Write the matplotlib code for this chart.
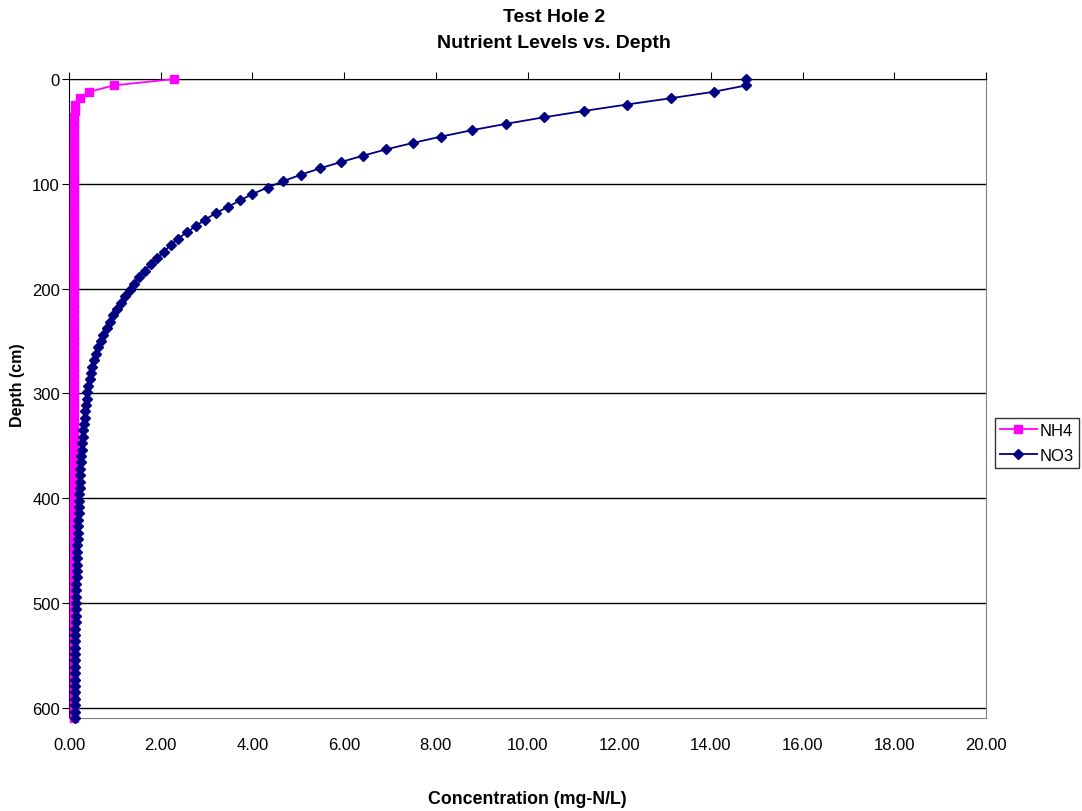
import numpy as np
import matplotlib.pyplot as plt

plt.rcParams['font.family'] = ['Liberation Sans', 'DejaVu Sans']

# depth of each sample (cm)
depth = [0.0, 6.1, 12.2, 18.3, 24.4, 30.5, 36.6, 42.7, 48.8, 54.9,
         61.0, 67.1, 73.2, 79.2, 85.3, 91.4, 97.5, 103.6, 109.7, 115.8,
         121.9, 128.0, 134.1, 140.2, 146.3, 152.4, 158.5, 164.6, 170.7, 176.8,
         182.9, 189.0, 195.1, 201.2, 207.3, 213.4, 219.5, 225.6, 231.6, 237.7,
         243.8, 249.9, 256.0, 262.1, 268.2, 274.3, 280.4, 286.5, 292.6, 298.7,
         304.8, 310.9, 317.0, 323.1, 329.2, 335.3, 341.4, 347.5, 353.6, 359.7,
         365.8, 371.9, 378.0, 384.0, 390.1, 396.2, 402.3, 408.4, 414.5, 420.6,
         426.7, 432.8, 438.9, 445.0, 451.1, 457.2, 463.3, 469.4, 475.5, 481.6,
         487.7, 493.8, 499.9, 506.0, 512.1, 518.2, 524.3, 530.4, 536.4, 542.5,
         548.6, 554.7, 560.8, 566.9, 573.0, 579.1, 585.2, 591.3, 597.4, 603.5,
         609.6]

# concentrations (mg-N/L)
nh4 = [2.30, 0.98, 0.44, 0.23, 0.14, 0.12, 0.11, 0.11, 0.11, 0.11,
       0.11, 0.11, 0.11, 0.11, 0.11, 0.11, 0.11, 0.11, 0.11, 0.11,
       0.11, 0.11, 0.11, 0.11, 0.11, 0.11, 0.11, 0.11, 0.11, 0.11,
       0.11, 0.11, 0.11, 0.11, 0.11, 0.11, 0.11, 0.11, 0.11, 0.11,
       0.11, 0.10, 0.10, 0.10, 0.10, 0.10, 0.10, 0.10, 0.10, 0.10,
       0.10, 0.10, 0.10, 0.10, 0.10, 0.10, 0.10, 0.10, 0.10, 0.10,
       0.10, 0.10, 0.10, 0.10, 0.10, 0.10, 0.10, 0.10, 0.10, 0.10,
       0.10, 0.10, 0.10, 0.10, 0.10, 0.10, 0.10, 0.10, 0.10, 0.10,
       0.10, 0.10, 0.10, 0.10, 0.10, 0.10, 0.10, 0.10, 0.10, 0.10,
       0.10, 0.10, 0.10, 0.10, 0.10, 0.10, 0.10, 0.10, 0.10, 0.10,
       0.10]

no3 = [14.77, 14.77, 14.06, 13.13, 12.16, 11.23, 10.35, 9.54, 8.79, 8.12,
       7.50, 6.92, 6.41, 5.93, 5.47, 5.05, 4.67, 4.33, 4.00, 3.73,
       3.47, 3.20, 2.97, 2.77, 2.57, 2.37, 2.22, 2.07, 1.93, 1.78,
       1.66, 1.53, 1.42, 1.32, 1.22, 1.13, 1.04, 0.97, 0.89, 0.82,
       0.75, 0.69, 0.63, 0.58, 0.54, 0.50, 0.47, 0.45, 0.42, 0.40,
       0.39, 0.37, 0.35, 0.34, 0.32, 0.31, 0.30, 0.29, 0.28, 0.27,
       0.26, 0.25, 0.24, 0.24, 0.23, 0.22, 0.22, 0.21, 0.21, 0.20,
       0.20, 0.19, 0.19, 0.18, 0.18, 0.18, 0.17, 0.17, 0.17, 0.16,
       0.16, 0.16, 0.15, 0.15, 0.15, 0.15, 0.14, 0.14, 0.14, 0.14,
       0.14, 0.13, 0.13, 0.13, 0.13, 0.13, 0.13, 0.12, 0.12, 0.12,
       0.12]

xticks = [0, 2, 4, 6, 8, 10, 12, 14, 16, 18, 20]
yticks = [0, 100, 200, 300, 400, 500, 600]

fig = plt.figure(figsize=(10.82, 8.12), dpi=100)
ax = fig.add_axes([69 / 1082, 1 - 719 / 812, (986 - 69) / 1082, (719 - 80) / 812])

ax.plot(nh4, depth, color='#FF00FF', marker='s', markersize=6.2, lw=1.3,
        label='NH4', clip_on=False, zorder=3)
ax.plot(no3, depth, color='#000080', marker='D', markersize=4.6, lw=1.3,
        label='NO3', clip_on=False, zorder=4)

ax.set_xlim(0, 20)
ax.set_ylim(609.6, 0)
ax.set_xticks(xticks)
ax.set_xticklabels(['%.2f' % v for v in xticks])
ax.set_yticks(yticks)

ax.grid(axis='y', color='black', lw=1)
ax.set_axisbelow(True)

for s in ['right', 'bottom']:
    ax.spines[s].set_color('#808080')
for s in ['top', 'left']:
    ax.spines[s].set_color('black')

ax.tick_params(axis='x', bottom=False, top=True, labelbottom=True, labeltop=False,
               direction='out', length=5, pad=9, labelsize=12)
ax.tick_params(axis='y', direction='out', length=5, pad=1.5, labelsize=12)

fig.text(18 / 1082, 1 - 385 / 812, 'Depth (cm)', ha='center', va='center',
         rotation=90, fontsize=11.5, fontweight='bold')
fig.text(527 / 1082, 1 - 800 / 812, 'Concentration (mg-N/L)', ha='center', va='center',
         fontsize=12.8, fontweight='bold')

fig.text(554 / 1082, 1 - 17 / 812, 'Test Hole 2', ha='center', va='center',
         fontsize=14, fontweight='bold')
fig.text(554 / 1082, 1 - 44 / 812, 'Nutrient Levels vs. Depth', ha='center', va='center',
         fontsize=14, fontweight='bold')

leg = fig.legend(loc='center left', bbox_to_anchor=(995 / 1082, 1 - 444 / 812),
                 frameon=True, fancybox=False, fontsize=12, handlelength=2.2,
                 borderpad=0.3, labelspacing=0.6, handletextpad=0.2, borderaxespad=0)
leg.get_frame().set_edgecolor('black')
leg.get_frame().set_linewidth(1)

fig.savefig('out.png', dpi=100)
